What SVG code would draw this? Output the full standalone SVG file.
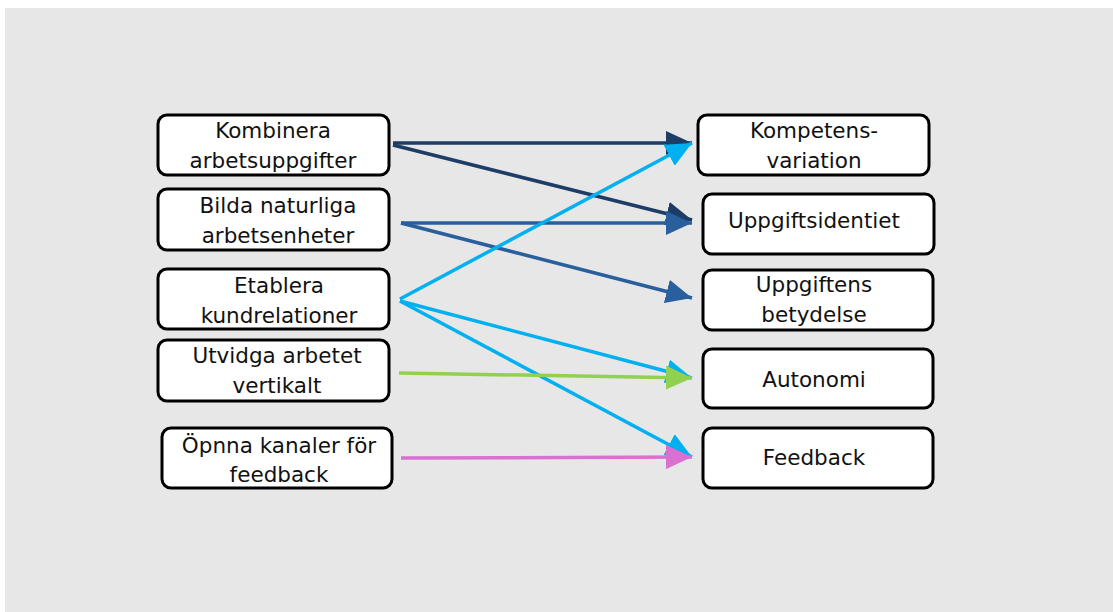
<svg xmlns="http://www.w3.org/2000/svg" width="1113" height="612" viewBox="0 0 1113 612">
<defs>
<style>
.box{fill:#fff;stroke:#000;stroke-width:3}
.t{font-family:"DejaVu Sans","Noto Sans",sans-serif;font-size:21.5px;fill:#111;text-anchor:middle}
.c{fill:none;stroke-width:3.5}
</style>
<marker id="mNavy" markerUnits="userSpaceOnUse" markerWidth="26" markerHeight="24" viewBox="0 0 26 24" refX="26" refY="12" orient="auto"><path d="M0,0 L26,12 L0,24 z" fill="#1d3c66"/></marker>
<marker id="mBlue" markerUnits="userSpaceOnUse" markerWidth="26" markerHeight="24" viewBox="0 0 26 24" refX="26" refY="12" orient="auto"><path d="M0,0 L26,12 L0,24 z" fill="#2a5f9e"/></marker>
<marker id="mCyan" markerUnits="userSpaceOnUse" markerWidth="26" markerHeight="24" viewBox="0 0 26 24" refX="26" refY="12" orient="auto"><path d="M0,0 L26,12 L0,24 z" fill="#00b0f0"/></marker>
<marker id="mGreen" markerUnits="userSpaceOnUse" markerWidth="26" markerHeight="24" viewBox="0 0 26 24" refX="26" refY="12" orient="auto"><path d="M0,0 L26,12 L0,24 z" fill="#92d050"/></marker>
<marker id="mPink" markerUnits="userSpaceOnUse" markerWidth="26" markerHeight="24" viewBox="0 0 26 24" refX="26" refY="12" orient="auto"><path d="M0,0 L26,12 L0,24 z" fill="#d970d2"/></marker>
</defs>
<rect x="0" y="0" width="1113" height="612" fill="#fff"/>
<rect x="5" y="8" width="1108" height="604" fill="#e7e7e7"/>

<g id="n-kombinera"><rect class="box" x="158" y="115" width="231" height="60" rx="9"/><text class="t" x="273" y="138">Kombinera</text><text class="t" x="273" y="168">arbetsuppgifter</text></g>
<g id="n-bilda"><rect class="box" x="158" y="189" width="231" height="61" rx="9"/><text class="t" x="278" y="213">Bilda naturliga</text><text class="t" x="278" y="243">arbetsenheter</text></g>
<g id="n-etablera"><rect class="box" x="158" y="269" width="231" height="60" rx="9"/><text class="t" x="279" y="293">Etablera</text><text class="t" x="279" y="323">kundrelationer</text></g>
<g id="n-utvidga"><rect class="box" x="158" y="340" width="231" height="61" rx="9"/><text class="t" x="277" y="363">Utvidga arbetet</text><text class="t" x="277" y="393">vertikalt</text></g>
<g id="n-oppna"><rect class="box" x="162" y="428" width="230" height="60" rx="9"/><text class="t" x="279" y="453">Öpnna kanaler för</text><text class="t" x="279" y="482">feedback</text></g>

<g id="n-kompetens"><rect class="box" x="698" y="115" width="231" height="60" rx="9"/><text class="t" x="814" y="138">Kompetens-</text><text class="t" x="814" y="168">variation</text></g>
<g id="n-uppgiftsidentiet"><rect class="box" x="703" y="194" width="231" height="60" rx="9"/><text class="t" x="814" y="228">Uppgiftsidentiet</text></g>
<g id="n-uppgiftens"><rect class="box" x="703" y="270" width="230" height="60" rx="9"/><text class="t" x="814" y="292">Uppgiftens</text><text class="t" x="814" y="322">betydelse</text></g>
<g id="n-autonomi"><rect class="box" x="703" y="349" width="230" height="59" rx="9"/><text class="t" x="814" y="387">Autonomi</text></g>
<g id="n-feedback"><rect class="box" x="703" y="428" width="230" height="60" rx="9"/><text class="t" x="814" y="465">Feedback</text></g>

<g id="connectors">
<line class="c" stroke="#1d3c66" x1="393" y1="143" x2="692" y2="143" marker-end="url(#mNavy)"/>
<line class="c" stroke="#1d3c66" x1="393" y1="145" x2="692" y2="220" marker-end="url(#mNavy)"/>
<line class="c" stroke="#2a5f9e" x1="401" y1="223" x2="692" y2="223" marker-end="url(#mBlue)"/>
<line class="c" stroke="#2a5f9e" x1="401" y1="223" x2="692" y2="298" marker-end="url(#mBlue)"/>
<line class="c" stroke="#00b0f0" x1="400" y1="299" x2="692" y2="143" marker-end="url(#mCyan)"/>
<line class="c" stroke="#00b0f0" x1="400" y1="301" x2="692" y2="378" marker-end="url(#mCyan)"/>
<line class="c" stroke="#00b0f0" x1="400" y1="301" x2="692" y2="457" marker-end="url(#mCyan)"/>
<line class="c" stroke="#92d050" x1="399" y1="373" x2="692" y2="378" marker-end="url(#mGreen)"/>
<line class="c" stroke="#d970d2" x1="401" y1="458" x2="692" y2="457" marker-end="url(#mPink)"/>
</g>
</svg>
